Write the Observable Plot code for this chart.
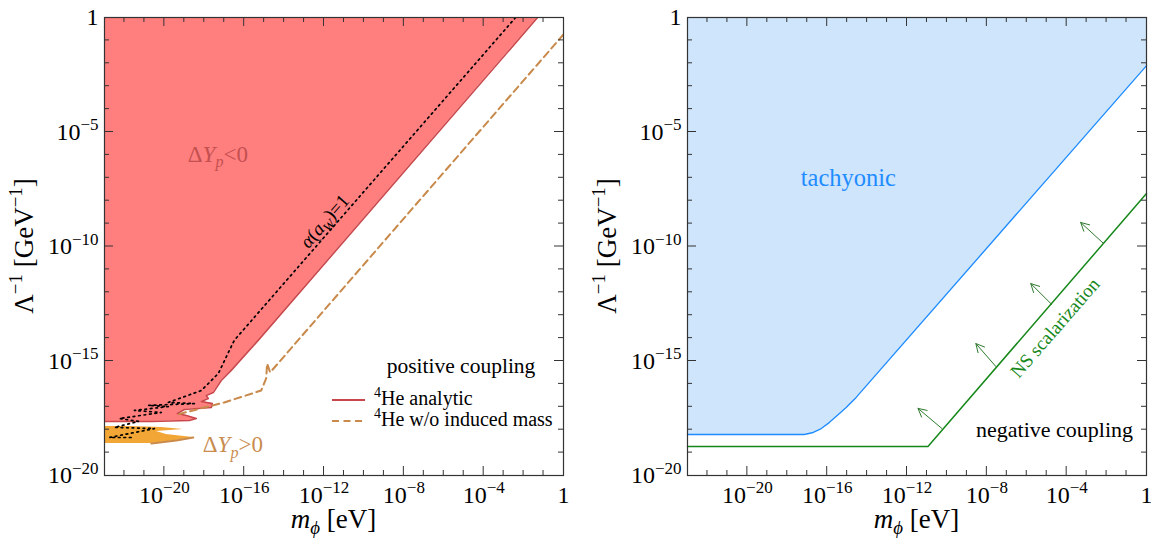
<!DOCTYPE html>
<html><head><meta charset="utf-8">
<script src="https://cdn.jsdelivr.net/npm/d3@7"></script>
<script src="https://cdn.jsdelivr.net/npm/@observablehq/plot@0.6"></script>
<style>
body{margin:0;background:#fff;}
#wrap{display:flex;width:1151px;height:545px;}
#wrap svg{display:block;}
#wrap svg text, #wrap svg tspan{font-family:"Liberation Serif","Times New Roman",serif !important;}
</style></head><body><div id="wrap"><div id="left"></div><div id="right"></div></div>
<script>
// ---------- axes (log10 exponents) ----------
const xDomainExp = [-23, 0];
const yDomainExp = [-20, 0];
const xMajorExp = [-20, -16, -12, -8, -4, 0];
const yMajorExp = [-20, -15, -10, -5, 0];

// ---------- left panel: positive coupling ----------
// ΔYp<0 region edge ("4He analytic"), from bottom to top: log10 Λ^-1, log10 m
const redEdgeLogL = [-17.64,-17.6,-17.51,-17.38,-17.29,-17.12,-17.03,-16.86,-16.77,-16.64,-16.51,-16.38,-15.85,-15.41,-14.1,-6.75,0];
const redEdgeLogM = [-20.65,-18.75,-18.4,-18.9,-19.35,-19.0,-17.65,-17.6,-18.15,-17.8,-17.9,-17.55,-17.15,-16.65,-15.3,-8.0,-1.3];
// ΔYp>0 region edge, from bottom to top
const orangeEdgeLogL = [-18.6,-18.47,-18.34,-18.21,-18.08,-17.99,-17.9,-17.86];
const orangeEdgeLogM = [-20.65,-19.4,-18.55,-19.9,-20.4,-19.05,-20.15,-21.65];
// 4He w/o induced mass (dashed)
const noInducedLogM = [0,-14.7,-14.85,-14.9,-15.15,-17.0,-19.15,-19.4];
const noInducedLogL = [-0.74,-15.5,-15.11,-15.76,-16.29,-16.81,-17.29,-17.36];
// α(a_W)=1 (dotted)
const alphaLogM = [-2.4,-16.5,-17.3,-18.15,-19.8,-18.5,-20.8,-19.8,-21.5,-20.15,-22.25,-21.3,-22.5,-20.5,-22.75,-21.5];
const alphaLogL = [0,-14.1,-15.55,-16.29,-16.81,-16.86,-16.94,-16.99,-17.16,-17.25,-17.51,-17.64,-17.9,-17.95,-18.34,-18.34];

// ---------- right panel: negative coupling ----------
const tachLogM = [-23,-17.15,-16.7,-16.3,-15.9,-15.5,-15.05,-14.55,0];
const tachLogL = [-18.21,-18.21,-18.12,-17.95,-17.69,-17.38,-17.03,-16.59,-2.1];
const nsLogM = [-23,-10.95,0];
const nsLogL = [-18.73,-18.73,-7.69];
const nsArrowBaseLogM = [-10.25,-7.55,-4.75,-2.15];
const nsArrowBaseLogL = [-17.95,-15.24,-12.53,-9.87];
const nsArrowTipLogM = [-11.45,-8.55,-5.8,-3.3];
const nsArrowTipLogL = [-17.07,-14.24,-11.62,-8.95];

// ---------- helpers ----------
const SERIF = '"Liberation Serif", "Times New Roman", serif';
const p10 = e => Math.pow(10, e);
const pts = (ms, ls) => ms.map((m, i) => ({m: p10(m), L: p10(ls[i])}));
const fmt = d => { const e = Math.round(Math.log10(d)); return e === 0 ? "1" : "10^" + e; };
const xMin = p10(xDomainExp[0]);

function basePlot(width, marginLeft, marginRight, marks) {
  return Plot.plot({
    width, height: 545, marginLeft, marginRight, marginTop: 17, marginBottom: 70,
    style: {fontFamily: SERIF, fontSize: "24px", background: "white", color: "black", overflow: "visible"},
    x: {type: "log", domain: xDomainExp.map(p10), ticks: xMajorExp.map(p10), tickFormat: fmt, tickSize: 0, tickPadding: 10, label: null},
    y: {type: "log", domain: yDomainExp.map(p10), ticks: yMajorExp.map(p10), tickFormat: fmt, tickSize: 0, tickPadding: 6, label: null},
    marks
  });
}

function rich(g, parts, {x, y, size, anchor = "start", fill = "black", rotate = 0, dy = 0}) {
  const t = g.append("text")
    .attr("transform", `translate(${x},${y}) rotate(${rotate})`)
    .attr("text-anchor", anchor).attr("font-size", size).attr("fill", fill)
    .style("font-family", SERIF);
  let shift = -dy;
  for (const p of parts) {
    const target = p.sup ? -0.4 * size : p.sub ? 0.24 * size : 0;
    const ts = t.append("tspan").text(p.t).attr("dy", target - shift);
    shift = target;
    if (p.sup || p.sub) ts.attr("font-size", size * 0.7);
    if (p.it) ts.attr("font-style", "italic");
  }
  return t;
}

function finish(plot, opts) {
  const svg = d3.select(plot.tagName === "svg" ? plot : plot.querySelector("svg"));
  svg.style("font-family", SERIF);
  const sx = plot.scale("x"), sy = plot.scale("y");
  const fx = sx.apply ? (v => sx.apply(v)) : d3.scaleLog(sx.domain, sx.range);
  const fy = sy.apply ? (v => sy.apply(v)) : d3.scaleLog(sy.domain, sy.range);
  const [xl, xr] = [fx(p10(xDomainExp[0])), fx(p10(xDomainExp[1]))];
  const [yb, yt] = [fy(p10(yDomainExp[0])), fy(p10(yDomainExp[1]))];
  // tick labels -> superscripts
  svg.selectAll("text").each(function() {
    const el = d3.select(this);
    const s = this.textContent;
    el.attr("font-size", 24).style("font-family", SERIF);
    if (this.getAttribute("dy") === "0.32em") el.attr("dy", "0.4em");
    if (s.startsWith("10^")) {
      const e = s.slice(3).replace("-", "\u2212");
      el.text("");
      el.append("tspan").text("10");
      el.append("tspan").text(e).attr("dy", -9.5).attr("font-size", 17);
    }
  });
  // inward ticks on all four sides
  const g = svg.append("g").attr("stroke", "#333").attr("stroke-width", 1);
  for (let e = xDomainExp[0] + 1; e < xDomainExp[1]; e++) {
    const len = xMajorExp.includes(e) ? 9 : 5, X = fx(p10(e));
    g.append("line").attr("x1", X).attr("x2", X).attr("y1", yb).attr("y2", yb - len);
    g.append("line").attr("x1", X).attr("x2", X).attr("y1", yt).attr("y2", yt + len);
  }
  for (let e = yDomainExp[0] + 1; e < yDomainExp[1]; e++) {
    const len = yMajorExp.includes(e) ? 9 : 5, Y = fy(p10(e));
    g.append("line").attr("y1", Y).attr("y2", Y).attr("x1", xl).attr("x2", xl + len);
    g.append("line").attr("y1", Y).attr("y2", Y).attr("x1", xr).attr("x2", xr - len);
  }
  // axis titles
  const T = svg.append("g");
  const xc = (xl + xr) / 2, yc = (yb + yt) / 2;
  rich(T, [{t: "m", it: 1}, {t: "\u03D5", sub: 1, it: 1}, {t: " [eV]"}], {x: xc, y: 528, size: 27, anchor: "middle"});
  rich(T, [{t: "\u039B"}, {t: "\u22121", sup: 1}, {t: " [GeV"}, {t: "\u22121", sup: 1}, {t: "]"}],
       {x: opts.yTitleX, y: yc, size: 27, anchor: "middle", rotate: -90});
  const ang = -Math.atan2(fy(1e-10) - fy(1e-9), fx(1e-9) - fx(1e-10)) * 180 / Math.PI;
  opts.annotate(T, fx, fy, ang, {xl, xr, yb, yt});
}

// ---------- left panel ----------
const red = pts(redEdgeLogM, redEdgeLogL);
const orange = pts(orangeEdgeLogM, orangeEdgeLogL);
const leftPlot = basePlot(575, 104, 12, [
  Plot.areaX(red, {y: "L", x1: () => xMin, x2: "m", fill: "#ff7f7f", curve: "linear"}),
  Plot.areaX(orange, {y: "L", x1: () => xMin, x2: "m", fill: "#f2a636", curve: "linear"}),
  Plot.line(orange.slice(0, 3), {x: "m", y: "L", stroke: "#c98a4a", strokeWidth: 2}),
  Plot.line([{m: xMin, L: red[0].L}, ...red], {x: "m", y: "L", stroke: "#c9474a", strokeWidth: 1.6, clip: true}),
  Plot.line(pts(noInducedLogM, noInducedLogL), {x: "m", y: "L", stroke: "#c8894a", strokeWidth: 2, strokeDasharray: "7,4.5", clip: true}),
  Plot.line(pts(alphaLogM, alphaLogL), {x: "m", y: "L", stroke: "black", strokeWidth: 1.7, strokeDasharray: "1.7,3.8", clip: true}),
  Plot.frame({stroke: "#333", strokeWidth: 1.2})
]);
document.getElementById("left").appendChild(leftPlot);
finish(leftPlot, {yTitleX: 33, annotate(T, fx, fy, ang, f) {
  rich(T, [{t: "\u0394"}, {t: "Y", it: 1}, {t: "p", it: 1, sub: 1}, {t: "<0"}], {x: fx(p10(-18.8)), y: fy(p10(-6.33)), size: 23, fill: "#c4504f"});
  rich(T, [{t: "\u0394"}, {t: "Y", it: 1}, {t: "p", it: 1, sub: 1}, {t: ">0"}], {x: fx(p10(-18.05)), y: fy(p10(-19.0)), size: 23, fill: "#c98c4e"});
  rich(T, [{t: "\u03B1", it: 1}, {t: "("}, {t: "a", it: 1}, {t: "W", it: 1, sub: 1}, {t: ")=1"}], {x: fx(p10(-11.9)), y: fy(p10(-8.95)), size: 19, anchor: "middle", rotate: ang, dy: 5});
  rich(T, [{t: "positive coupling"}], {x: 461, y: 373, size: 21.5, anchor: "middle"});
  // legend
  T.append("line").attr("x1", 332).attr("x2", 365).attr("y1", 400).attr("y2", 400).attr("stroke", "#c9474a").attr("stroke-width", 2.2);
  T.append("line").attr("x1", 332).attr("x2", 365).attr("y1", 421).attr("y2", 421).attr("stroke", "#c8894a").attr("stroke-width", 2.2).attr("stroke-dasharray", "7,4.5");
  rich(T, [{t: "4", sup: 1}, {t: "He analytic"}], {x: 374, y: 405, size: 20});
  rich(T, [{t: "4", sup: 1}, {t: "He w/o induced mass"}], {x: 374, y: 426, size: 20});
}});

// ---------- right panel ----------
const arrows = nsArrowBaseLogM.map((m, i) => ({m1: p10(m), L1: p10(nsArrowBaseLogL[i]), m2: p10(nsArrowTipLogM[i]), L2: p10(nsArrowTipLogL[i])}));
const tach = pts(tachLogM, tachLogL);
const rightPlot = basePlot(576, 112, 5, [
  Plot.areaY(tach, {x: "m", y1: "L", y2: () => 1, fill: "#cfe5fb", curve: "linear"}),
  Plot.line(tach, {x: "m", y: "L", stroke: "#1e8cff", strokeWidth: 1.4, curve: "linear"}),
  Plot.line(pts(nsLogM, nsLogL), {x: "m", y: "L", stroke: "#16881a", strokeWidth: 1.5}),
  Plot.arrow(arrows, {x1: "m1", y1: "L1", x2: "m2", y2: "L2", stroke: "#2e7a2e", strokeWidth: 1, headLength: 14, headAngle: 55}),
  Plot.frame({stroke: "#333", strokeWidth: 1.2})
]);
document.getElementById("right").appendChild(rightPlot);
finish(rightPlot, {yTitleX: 41, annotate(T, fx, fy, ang, f) {
  rich(T, [{t: "tachyonic"}], {x: fx(p10(-17.3)), y: fy(p10(-7.38)), size: 24.5, fill: "#1e8cff"});
  rich(T, [{t: "NS scalarization"}], {x: fx(p10(-4.55)), y: fy(p10(-13.58)), size: 19, anchor: "middle", rotate: ang, fill: "#16881a", dy: 6});
  rich(T, [{t: "negative coupling"}], {x: 479.5, y: 437, size: 22, anchor: "middle"});
}});
</script></body></html>
